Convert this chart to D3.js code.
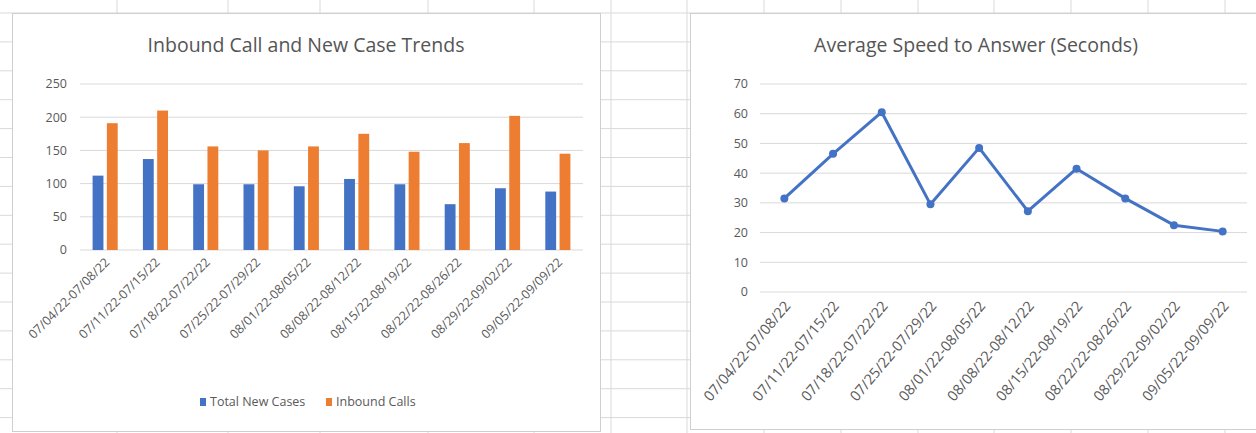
<!DOCTYPE html>
<html>
<head>
<meta charset="utf-8">
<script src="https://cdn.jsdelivr.net/npm/d3@7"></script>
<style>
  body { margin: 0; background: #fff; }
  svg { display: block; font-family: "Open Sans", sans-serif; }
  .tick-label { fill: #595959; font-size: 12.5px; }
  .title { fill: #555; font-size: 19.5px; }
</style>
</head>
<body>
<svg id="chart" width="1256" height="433"></svg>
<script>
// weekly periods
var weeks = ["07/04/22-07/08/22", "07/11/22-07/15/22", "07/18/22-07/22/22", "07/25/22-07/29/22",
  "08/01/22-08/05/22", "08/08/22-08/12/22", "08/15/22-08/19/22", "08/22/22-08/26/22",
  "08/29/22-09/02/22", "09/05/22-09/09/22"]
var newCases = [112, 137, 99, 99, 96, 107, 99, 69, 93, 88]
var inboundCalls = [191, 210, 156, 150, 156, 175, 148, 161, 202, 145]
var speedToAnswer = [31.5, 46.5, 60.5, 29.5, 48.5, 27.2, 41.5, 31.5, 22.5, 20.4]
var seriesNames = ["Total New Cases", "Inbound Calls"]
var barTicks = [0, 50, 100, 150, 200, 250]
var lineTicks = [0, 10, 20, 30, 40, 50, 60, 70]

var blue = "#4472C4", orange = "#ED7D31", grid = "#d9d9d9"
var svg = d3.select("#chart")

// spreadsheet behind the charts
var rowLines = d3.range(15).map(function(i){ return 13 + i * 28.9 })
var colLines = [117, 228, 320, 428, 534, 611, 687, 764, 841, 918, 994, 1071, 1148, 1225]
svg.append("g").selectAll("line.col").data(colLines).enter().append("line")
  .attr("x1", function(d){return d}).attr("x2", function(d){return d})
  .attr("y1", 0).attr("y2", 433).attr("stroke", grid)
svg.append("g").selectAll("line.row").data(rowLines).enter().append("line")
  .attr("x1", 0).attr("x2", 1256)
  .attr("y1", function(d){return d}).attr("y2", function(d){return d}).attr("stroke", grid)

// chart panels
svg.append("rect").attr("x", 12.5).attr("y", 13.5).attr("width", 588).attr("height", 418)
  .attr("fill", "#fff").attr("stroke", "#cfcfcf")
svg.append("rect").attr("x", 690.5).attr("y", 13.5).attr("width", 580).attr("height", 416)
  .attr("fill", "#fff").attr("stroke", "#cfcfcf")

// ---- left: bar chart
var g1 = svg.append("g")
g1.append("text").attr("class", "title").attr("x", 306).attr("y", 52)
  .attr("text-anchor", "middle").text("Inbound Call and New Case Trends")

var x1 = d3.scaleBand().domain(weeks).range([80, 583])
var xs = d3.scaleBand().domain(seriesNames).range([12.6, 37.7]).paddingInner(0.24)
var y1 = d3.scaleLinear().domain([0, 250]).range([250, 84])

g1.selectAll("line.grid").data(barTicks).enter().append("line")
  .attr("x1", 80).attr("x2", 583)
  .attr("y1", function(d){return y1(d)}).attr("y2", function(d){return y1(d)})
  .attr("stroke", grid)
g1.selectAll("text.ylab").data(barTicks).enter().append("text")
  .attr("class", "tick-label").attr("x", 67).attr("y", function(d){return y1(d)})
  .attr("dy", "0.35em").attr("text-anchor", "end").text(function(d){return d})

var barData = weeks.map(function(w, i){
  return [{week: w, name: seriesNames[0], value: newCases[i], color: blue},
          {week: w, name: seriesNames[1], value: inboundCalls[i], color: orange}]
})
g1.selectAll("g.pair").data(barData).enter().append("g")
  .attr("transform", function(d){return "translate(" + x1(d[0].week) + ",0)"})
  .selectAll("rect").data(function(d){return d}).enter().append("rect")
  .attr("x", function(d){return xs(d.name)})
  .attr("width", xs.bandwidth())
  .attr("y", function(d){return y1(d.value)})
  .attr("height", function(d){return y1(0) - y1(d.value)})
  .attr("fill", function(d){return d.color})

g1.selectAll("text.xlab").data(weeks).enter().append("text")
  .attr("class", "tick-label")
  .attr("transform", function(d){return "translate(" + (x1(d) + x1.bandwidth()/2 + 2) + ",260) rotate(-45)"})
  .attr("text-anchor", "end").attr("dy", "0.35em").text(function(d){return d})

var legend = g1.selectAll("g.leg").data(seriesNames).enter().append("g")
  .attr("transform", function(d, i){return "translate(" + (i == 0 ? 200 : 326) + ",402)"})
legend.append("rect").attr("x", 0).attr("y", -4).attr("width", 6).attr("height", 8)
  .attr("fill", function(d, i){return i == 0 ? blue : orange})
legend.append("text").attr("class", "tick-label").attr("x", 10).attr("dy", "0.35em")
  .text(function(d){return d})

// ---- right: line chart
var g2 = svg.append("g")
g2.append("text").attr("class", "title").attr("x", 976).attr("y", 52)
  .attr("text-anchor", "middle").text("Average Speed to Answer (Seconds)")

var x2 = d3.scaleBand().domain(weeks).range([760, 1247])
var y2 = d3.scaleLinear().domain([0, 70]).range([292, 84])

g2.selectAll("line.grid").data(lineTicks).enter().append("line")
  .attr("x1", 760).attr("x2", 1247)
  .attr("y1", function(d){return y2(d)}).attr("y2", function(d){return y2(d)})
  .attr("stroke", grid)
g2.selectAll("text.ylab").data(lineTicks).enter().append("text")
  .attr("class", "tick-label").attr("x", 748).attr("y", function(d){return y2(d)})
  .attr("dy", "0.35em").attr("text-anchor", "end").text(function(d){return d})

var pts = weeks.map(function(w, i){return {week: w, value: speedToAnswer[i]}})
var line = d3.line()
  .x(function(d){return x2(d.week) + x2.bandwidth()/2})
  .y(function(d){return y2(d.value)})
g2.append("path").datum(pts).attr("d", line)
  .attr("fill", "none").attr("stroke", blue).attr("stroke-width", 3)
  .attr("stroke-linejoin", "round")
g2.selectAll("circle").data(pts).enter().append("circle")
  .attr("cx", function(d){return x2(d.week) + x2.bandwidth()/2})
  .attr("cy", function(d){return y2(d.value)})
  .attr("r", 4).attr("fill", blue)

g2.selectAll("text.xlab").data(weeks).enter().append("text")
  .attr("class", "tick-label").style("font-size", "14.5px")
  .attr("transform", function(d){return "translate(" + (x2(d) + x2.bandwidth()/2 + 3) + ",303) rotate(-50)"})
  .attr("text-anchor", "end").attr("dy", "0.35em").text(function(d){return d})
</script>
</body>
</html>
